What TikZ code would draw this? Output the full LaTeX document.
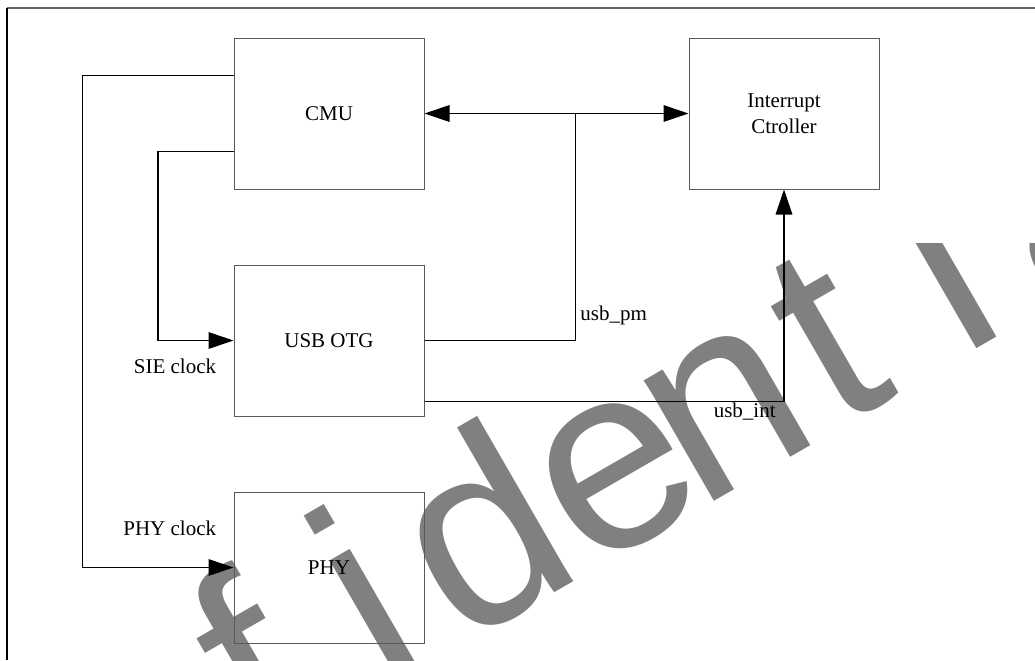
\documentclass[tikz,border=0pt]{standalone}
\usepackage{fontspec}
\setmainfont{Liberation Serif}
\newfontfamily\wmfont{Liberation Sans}
\usetikzlibrary{positioning,calc,arrows.meta}
\tikzset{
  blk/.style={draw=black!65, line width=0.5pt, minimum width=95pt, minimum height=75.5pt, inner sep=0pt, align=center},
  wire/.style={line width=0.65pt},
  lbl/.style={inner sep=0pt},
  wm/.style={anchor=base west, inner sep=0pt, text=gray, font=\wmfont\fontsize{132}{132}\selectfont},
}
\begin{document}
\begin{tikzpicture}[x=0.5pt, y=-0.5pt, >={Triangle[length=12.5pt,width=8.3pt]}, font=\fontsize{10.5}{13}\selectfont]
\useasboundingbox (0,0) rectangle (1035,660);
% watermark
\begin{scope}
\clip (0,243) rectangle (1035,660);
\begin{scope}[shift={(697.8,510.3)}, rotate=30, transform shape]
\foreach \ch/\p in {f/-1.901, i/-1.37, d/-1.036, e/-0.48, n/0, t/0.61, i/1.154, a/1.524}
  \node[wm] at (\p*132pt,0pt) {\ch};
\end{scope}
\end{scope}
% frame
\draw[line width=0.6pt, black!60] (1035,8) -- (7,8);
\draw[line width=0.6pt] (7,8) -- (7,660);
% blocks
\node[blk] (cmu) at (329,113.5) {CMU};
\node[blk, below=37.5pt of cmu] (otg) {USB OTG};
\node[blk, below=37.5pt of otg] (phy) {PHY};
\node[blk, right=132pt of cmu] (intc) {Interrupt\\Ctroller};
\coordinate (pmj) at ($(cmu.east)!0.572!(intc.west)$);
% clocks
\draw[wire,->] ($(cmu.north west)!0.25!(cmu.south west)$) -- ++(-151,0) |- (phy.west);
\draw[wire,->] ($(cmu.north west)!0.75!(cmu.south west)$) -- ++(-75.5,0) |- (otg.west);
% bus and interrupts
\draw[wire,<->] (cmu.east) -- (intc.west);
\draw[wire] (otg.east) -| (pmj);
\draw[wire,->] ($(otg.north east)!0.9!(otg.south east)$) -| (intc.south);
% labels
\node[lbl, anchor=east] (sie) at ([shift={(-17,26)}]otg.west) {SIE clock};
\node[lbl, anchor=east] (phyclk) at ([shift={(-17,-39.5)}]phy.west) {PHY clock};
\node[lbl, anchor=base west] (pm) at (580,320) {usb\_pm};
\node[lbl, anchor=base east] (int) at (776,417.5) {usb\_int};
\end{tikzpicture}
\end{document}
